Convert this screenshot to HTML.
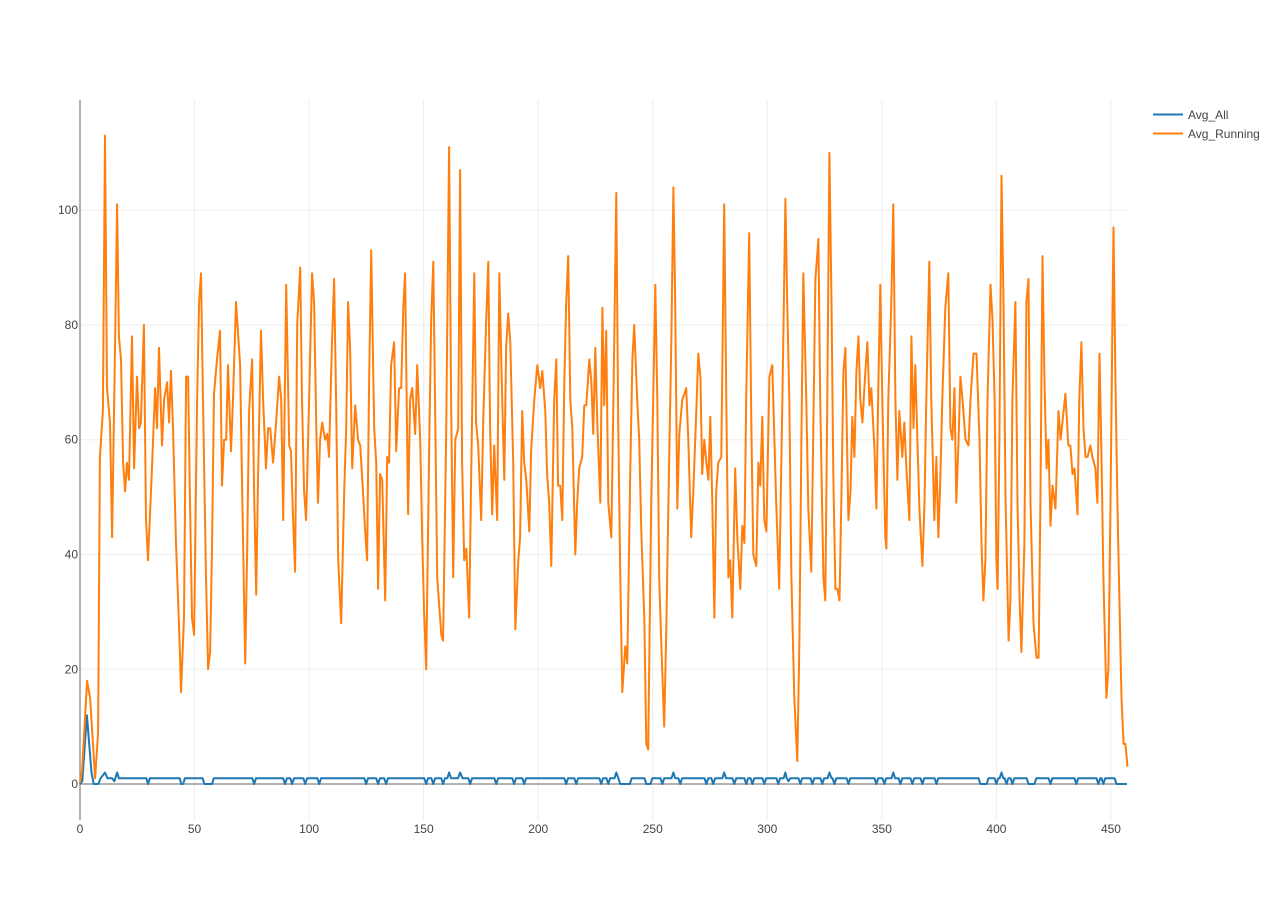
<!DOCTYPE html>
<html>
<head>
<meta charset="utf-8">
<style>
html,body{margin:0;padding:0;background:#fff;}
body{width:1280px;height:900px;overflow:hidden;font-family:"Liberation Sans",sans-serif;}
svg text{font-family:"Liberation Sans",sans-serif;font-size:12px;fill:#444;}
</style>
</head>
<body>
<svg id="chart" width="1280" height="900" xmlns="http://www.w3.org/2000/svg">
  <g id="grid"></g>
  <g id="xticks"></g>
  <g id="yticks"></g>
  <g id="series"></g>
  <g id="legend">
    <g>
      <line x1="1153" y1="114.5" x2="1183" y2="114.5" stroke="#1f77b4" stroke-width="2"/>
      <text x="1188" y="119">Avg_All</text>
    </g>
    <g>
      <line x1="1153" y1="133.5" x2="1183" y2="133.5" stroke="#ff7f0e" stroke-width="2"/>
      <text x="1188" y="138">Avg_Running</text>
    </g>
  </g>
</svg>
<script>
const xTicks = [0,50,100,150,200,250,300,350,400,450];
const yTicks = [0,20,40,60,80,100];
const runIdx = [0,0.9,3.1,4.4,6.6,7.9,8.7,10.0,10.9,11.8,13.1,14.0,15.3,16.2,17.0,17.9,18.8,19.7,20.5,21.4,22.7,23.6,24.9,25.8,26.6,27.9,28.8,29.7,31.0,31.9,32.8,33.6,34.5,35.8,36.7,38.0,38.9,39.7,40.6,41.9,42.8,43.7,44.1,45.4,46.3,47.2,48.0,48.9,49.8,51.1,52.0,52.8,53.7,55.0,55.9,56.8,57.6,58.5,59.8,61.1,62.0,62.9,63.8,64.6,65.9,66.8,68.1,69.9,70.7,72.1,72.9,73.8,75.1,76.0,76.9,77.7,79.0,79.9,81.2,82.1,83.0,84.3,85.6,86.9,87.8,88.7,90.0,91.3,92.1,93.0,93.9,94.8,96.1,96.9,97.8,98.7,100.0,101.3,102.2,103.1,103.9,104.8,105.7,107.0,107.9,108.7,110.0,110.9,111.8,112.7,114.0,115.3,116.2,117.0,117.9,118.8,120.1,121.4,122.3,123.2,124.5,125.3,126.2,127.1,128.4,129.3,130.1,131.0,131.9,133.2,134.1,134.9,135.8,137.1,138.0,139.3,140.2,141.1,141.9,143.2,144.1,145.0,146.3,147.2,148.5,149.4,150.2,151.1,152.4,153.3,154.2,155.0,155.9,157.7,158.5,159.8,161.1,162.0,162.9,163.8,165.1,165.9,166.8,167.7,168.6,169.9,170.7,172.1,172.9,173.8,175.1,176.0,177.3,178.2,179.0,179.9,180.8,182.1,183.0,184.3,185.2,186.0,186.9,187.8,189.1,190.0,191.3,192.1,193.0,193.9,194.8,196.1,196.9,198.3,199.6,200.9,201.8,203.1,203.9,204.8,205.7,207.0,207.9,208.7,209.6,210.5,211.4,212.2,213.1,214.0,214.9,216.2,217.0,217.9,219.2,220.1,221.0,222.3,223.2,224.0,224.9,225.8,227.1,228.0,228.8,229.7,230.6,231.9,232.8,234.1,234.9,235.8,236.7,238.0,238.9,240.2,241.1,241.9,243.2,244.1,245.0,246.3,247.2,248.0,249.3,250.2,251.1,252.0,252.8,253.7,255.0,255.9,256.8,258.1,259.0,259.8,260.7,261.6,262.9,263.8,264.6,265.5,266.8,267.7,269.0,269.9,270.8,271.6,272.5,273.4,274.3,275.1,276.0,276.9,277.7,278.6,279.9,281.2,282.1,283.0,283.8,284.7,286.0,286.9,288.2,289.1,290.0,290.8,292.1,293.0,293.9,295.2,296.1,296.9,297.8,298.7,299.6,300.9,302.2,303.1,303.9,305.2,306.6,307.9,308.7,309.6,310.5,311.8,313.1,314.0,314.9,315.7,317.0,317.9,319.2,320.1,321.0,322.3,323.1,324.5,325.3,326.2,327.1,328.0,328.8,329.7,330.6,331.5,332.3,333.2,334.1,335.4,336.3,337.1,338.0,338.9,339.8,340.6,341.5,342.8,343.7,344.6,345.4,346.7,347.6,348.5,349.3,350.2,351.5,352.0,352.8,354.1,355.0,355.9,356.8,357.6,358.9,359.8,360.7,362.0,362.9,363.8,364.6,365.5,366.4,367.7,368.6,369.4,370.7,371.6,372.9,373.8,374.7,375.5,376.4,377.7,379.0,379.9,380.8,381.7,382.5,383.4,384.3,385.2,386.5,387.8,388.7,390.0,391.3,392.6,393.5,394.3,395.2,396.1,397.4,398.3,399.2,400.0,400.5,401.3,402.2,403.1,404.0,405.3,406.1,407.0,408.3,409.2,410.1,410.9,412.2,413.1,414.0,414.9,416.2,417.5,418.4,419.2,420.1,421.0,421.9,422.7,423.6,424.5,425.8,427.1,428.0,428.8,430.1,431.4,432.3,433.2,434.1,435.4,436.2,437.1,438.0,438.9,439.8,441.0,441.9,443.2,444.1,445.0,445.9,446.7,448.0,448.9,449.8,451.1,452.0,452.8,453.7,454.6,455.5,456.3,457.2];
const runVal = [0.2,2.5,18,15,1,9,57,65,113,69,63,43,77,101,78,74,56,51,56,53,78,55,71,62,63,80,46,39,51,60,69,62,76,59,67,70,63,72,62,42,32,22,16,29,71,71,49,29,26,67,84,89,67,36,20,23,41,68,74,79,52,60,60,73,58,67,84,73,53,21,39,65,74,51,33,53,79,67,55,62,62,56,63,71,67,46,87,59,58,46,37,80,90,67,51,46,67,89,84,63,49,60,63,60,61,57,77,88,67,39,28,51,62,84,76,55,66,60,59,53,44,39,70,93,62,56,34,54,53,32,57,56,73,77,58,69,69,83,89,47,67,69,61,73,60,42,30,20,59,81,91,66,36,26,25,60,111,67,36,60,62,107,56,39,41,29,53,89,63,59,46,63,81,91,62,47,59,46,89,67,53,76,82,77,56,27,39,43,65,56,53,44,58,67,73,69,72,65,54,49,38,67,74,52,52,46,70,84,92,67,62,40,49,55,57,66,66,74,70,61,76,63,49,83,66,79,49,43,67,103,63,37,16,24,21,55,74,80,67,60,44,29,7,6,49,67,87,67,36,25,10,27,48,77,104,84,48,61,67,68,69,60,43,51,65,75,71,54,60,56,53,64,49,29,51,56,57,101,67,36,39,29,55,43,34,45,42,67,96,63,40,38,56,52,64,46,44,71,73,60,49,34,67,102,84,67,36,15,4,25,60,89,67,48,37,63,88,95,67,36,32,67,110,84,54,34,34,32,49,72,76,46,51,64,57,72,78,67,63,72,77,66,69,59,48,70,87,67,43,41,67,84,101,67,53,65,57,63,55,46,78,62,73,60,48,38,49,67,91,67,46,57,43,53,67,83,89,62,60,69,49,59,71,67,60,59,67,75,75,60,42,32,39,67,87,81,67,39,34,60,106,84,49,25,32,67,84,49,32,23,42,84,88,49,28,22,22,49,92,70,55,60,45,52,48,65,60,63,68,59,59,54,55,47,67,77,62,57,57,59,57,55,49,75,56,36,15,20,49,97,70,49,32,15,7,7,3];
const allIdx = [0,1,3,4,5,6,8,9,10.9,12,14,15,16.2,17,29,29.7,30.5,43.5,44.2,45,45.8,53.5,54.3,57.6,58.4,75.2,76,76.8,88.7,89.5,90.3,91.8,92.6,93.4,97.5,98.3,99.1,103.6,104.4,105.2,124.1,124.9,125.7,129.3,130.1,130.9,132.8,133.6,134.4,150.3,151.1,151.9,153.4,154.2,155,157.7,158.5,159.3,160.3,161.1,162,165,165.9,167,169.5,170.3,171.1,180.9,181.7,182.5,188.7,189.5,190.3,193.1,193.9,194.7,211.4,212.2,213,215.8,216.6,217.4,226.7,227.5,228.3,229.8,230.6,231.4,233.3,234.1,235,235.8,240,240.8,246.4,247.2,249,249.8,253.4,254.2,255,258.2,259,259.8,261.2,262,262.8,272.6,273.4,274.2,275.6,276.4,277.2,280.4,281.2,282,284.8,285.6,286.4,290,290.8,291.6,292.7,293.5,294.3,297.9,298.7,299.5,304,304.8,305.6,307.1,307.9,308.5,309.2,310,313.6,314.4,315.2,318.9,319.7,320.5,323.2,324,324.8,326.3,327.1,328,328.5,329.3,330.1,334.6,335.4,336.2,346.8,347.6,348.4,350.3,351.1,351.9,354.2,355,355.8,357.3,358.1,358.9,362.5,363.3,364.1,366.9,367.7,368.5,373,373.8,374.6,392.2,393,395.7,396.5,399.2,400,400.8,401.4,402.2,403,403.6,404.4,405.2,406.2,407,407.8,413.2,414,416.6,417.4,422.8,423.6,424.4,434.1,434.9,435.7,443.7,444.5,445.3,445.9,446.7,447.5,451.6,452.4,457];
const allVal = [0,0.5,12,7,2,0,0,1,2,1,1,0.5,2,1,1,0,1,1,0,0,1,1,0,0,1,1,0,1,1,0,1,1,0,1,1,0,1,1,0,1,1,0,1,1,0,1,1,0,1,1,0,1,1,0,1,1,0,1,1,2,1,1,2,1,1,0,1,1,0,1,1,0,1,1,0,1,1,0,1,1,0,1,1,0,1,1,0,1,1,2,1,0,0,1,1,0,0,1,1,0,1,1,2,1,1,0,1,1,0,1,1,0,1,1,2,1,1,0,1,1,0,1,1,0,1,1,0,1,1,0,1,1,2,1,0.5,1,1,0,1,1,0,1,1,0,1,1,2,1,1,0,1,1,0,1,1,0,1,1,0,1,1,2,1,1,0,1,1,0,1,1,0,1,1,0,1,1,0,0,1,1,0,1,1,2,1,1,0,1,1,0,1,1,0,0,1,1,0,1,1,0,1,1,0,1,1,0,1,1,0,0];

const X0=80, X1=1127, XMIN=0, XMAX=457;
const Y0=820, Y1=100, YMIN=-6.27, YMAX=119.2;
function sx(v){return X0+(v-XMIN)/(XMAX-XMIN)*(X1-X0);}
function sy(v){return Y0-(v-YMIN)/(YMAX-YMIN)*(Y0-Y1);}
const NS='http://www.w3.org/2000/svg';
function mk(tag,attrs,parent){const e=document.createElementNS(NS,tag);for(const k in attrs)e.setAttribute(k,attrs[k]);parent.appendChild(e);return e;}
const grid=document.getElementById('grid'), xt=document.getElementById('xticks'), yt=document.getElementById('yticks'), series=document.getElementById('series');
xTicks.forEach(t=>{
  if(t!==0){
    const l=mk('line',{x1:sx(t),x2:sx(t),y1:Y1,y2:Y0,stroke:'#eee','stroke-width':1},grid);
    
    
  }
  const tx=mk('text',{x:sx(t),y:833,'text-anchor':'middle'},xt);
  tx.textContent=t;
  
  
});
yTicks.forEach(t=>{
  if(t!==0){
    const l=mk('line',{x1:X0,x2:X1,y1:sy(t),y2:sy(t),stroke:'#eee','stroke-width':1},grid);
    
    
  }
  const tx=mk('text',{x:78,y:sy(t)+4,'text-anchor':'end'},yt);
  tx.textContent=t;
  
  
});
const zl=mk('line',{x1:X0,x2:X1,y1:sy(0),y2:sy(0),stroke:'#999','stroke-width':1.5},grid);


const ya=mk('line',{x1:X0,x2:X0,y1:Y1,y2:Y0,stroke:'#999','stroke-width':1.5},grid);


function pathFor(xs,ys){return xs.map((x,i)=>(i?'L':'M')+sx(x).toFixed(1)+','+sy(ys[i]).toFixed(1)).join('');}
const pa=mk('path',{d:pathFor(allIdx,allVal),fill:'none',stroke:'#1f77b4','stroke-width':2,'stroke-linejoin':'round'},series);


const pr=mk('path',{d:pathFor(runIdx,runVal),fill:'none',stroke:'#ff7f0e','stroke-width':2,'stroke-linejoin':'round'},series);


</script>
</body>
</html>
